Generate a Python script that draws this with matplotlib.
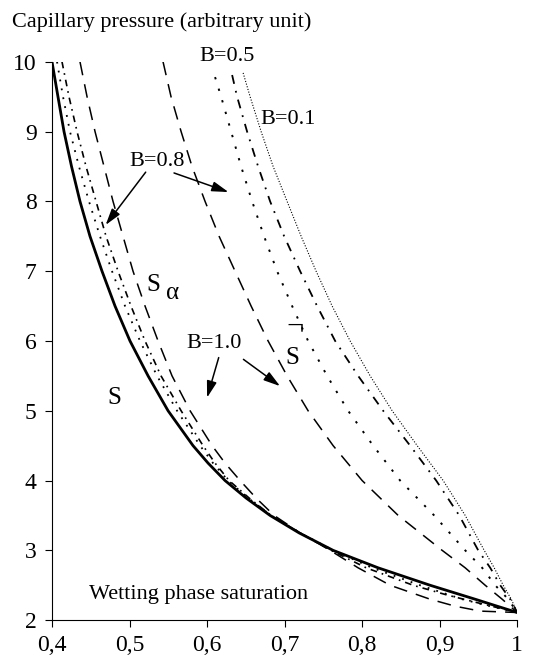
import matplotlib
matplotlib.use("Agg")
import matplotlib.pyplot as plt

plt.rcParams['font.family'] = ['Liberation Serif', 'DejaVu Serif']

# saturation / capillary pressure
# left family: S (thick) and the S_alpha curves
s_x = [0.400, 0.4077, 0.4155, 0.4252, 0.4361, 0.4490, 0.4645, 0.4813, 0.5006, 0.5239,
       0.5497, 0.5819, 0.6013, 0.6232, 0.6503, 0.6813, 0.7187, 0.7626, 0.8206, 0.8877,
       0.9458, 0.9742, 1.000]
s_y = [10.0, 9.5, 9.0, 8.5, 8.0, 7.5, 7.0, 6.5, 6.0, 5.5,
       5.0, 4.5, 4.25, 4.0, 3.75, 3.5, 3.25, 3.0, 2.75, 2.5,
       2.3, 2.2, 2.11]

dot_a_x = [0.4065, 0.4142, 0.4232, 0.4348, 0.4477, 0.4619, 0.4774, 0.4942, 0.5135, 0.5355,
           0.5613, 0.5910, 0.6077, 0.6271, 0.6529, 0.6826, 0.7200, 0.7626, 0.8129, 0.8748,
           0.9290, 0.9652, 1.000]
dot_a_y = [10.0, 9.5, 9.0, 8.5, 8.0, 7.5, 7.0, 6.5, 6.0, 5.5,
           5.0, 4.5, 4.25, 4.0, 3.75, 3.5, 3.25, 3.0, 2.75, 2.5,
           2.3, 2.2, 2.11]

dd_a_x = [0.4129, 0.4219, 0.4323, 0.4439, 0.4568, 0.4697, 0.4852, 0.5019, 0.5200, 0.5406,
          0.5665, 0.5948, 0.6103, 0.6284, 0.6542, 0.6826, 0.7200, 0.7600, 0.8052, 0.8658,
          0.9097, 0.9523, 1.000]
dd_a_y = [10.0, 9.5, 9.0, 8.5, 8.0, 7.5, 7.0, 6.5, 6.0, 5.5,
          5.0, 4.5, 4.25, 4.0, 3.75, 3.5, 3.25, 3.0, 2.75, 2.5,
          2.36, 2.24, 2.11]

salpha_x = [0.4361, 0.4452, 0.4555, 0.4671, 0.4787, 0.4916, 0.5045, 0.5200, 0.5368, 0.5548,
            0.5781, 0.6065, 0.6232, 0.6426, 0.6632, 0.6865, 0.7200, 0.7587, 0.7948, 0.8361,
            0.8877, 0.9200, 0.9523, 1.000]
salpha_y = [10.0, 9.5, 9.0, 8.5, 8.0, 7.5, 7.0, 6.5, 6.0, 5.5,
            5.0, 4.5, 4.25, 4.0, 3.75, 3.5, 3.25, 3.0, 2.75, 2.5,
            2.3, 2.2, 2.13, 2.11]

# right family: S bar and the B curves
sbar_x = [0.5432, 0.5535, 0.5665, 0.5806, 0.5974, 0.6155, 0.6361, 0.6568, 0.6787, 0.7032,
          0.7303, 0.7626, 0.8000, 0.8465, 0.9032, 0.9329, 0.9587, 0.9806, 1.000]
sbar_y = [10.0, 9.5, 9.0, 8.5, 8.0, 7.5, 7.0, 6.5, 6.0, 5.5,
          5.0, 4.5, 4.0, 3.5, 3.0, 2.75, 2.5, 2.3, 2.11]

b05_x = [0.6103, 0.6181, 0.6310, 0.6439, 0.6581, 0.6735, 0.6903, 0.7097, 0.7303, 0.7548,
         0.7819, 0.8142, 0.8490, 0.8929, 0.9329, 0.9548, 0.9716, 0.9884, 1.000]
b05_y = [9.78, 9.5, 9.0, 8.5, 8.0, 7.5, 7.0, 6.5, 6.0, 5.5,
         5.0, 4.5, 4.0, 3.5, 3.0, 2.75, 2.5, 2.3, 2.11]

dd_b_x = [0.6323, 0.6387, 0.6516, 0.6658, 0.6813, 0.6994, 0.7200, 0.7419, 0.7652, 0.7948,
          0.8271, 0.8619, 0.8955, 0.9252, 0.9497, 0.9652, 0.9781, 0.9910, 1.000]
dd_b_y = [9.81, 9.5, 9.0, 8.5, 8.0, 7.5, 7.0, 6.5, 6.0, 5.5,
          5.0, 4.5, 4.0, 3.5, 3.0, 2.75, 2.5, 2.3, 2.11]

b01_x = [0.6465, 0.6555, 0.6697, 0.6852, 0.7032, 0.7213, 0.7406, 0.7613, 0.7845, 0.8103,
         0.8387, 0.8710, 0.9045, 0.9329, 0.9574, 0.9703, 0.9819, 0.9923, 1.000]
b01_y = [9.84, 9.5, 9.0, 8.5, 8.0, 7.5, 7.0, 6.5, 6.0, 5.5,
         5.0, 4.5, 4.0, 3.5, 3.0, 2.75, 2.5, 2.3, 2.11]

x_ticks = [0.4, 0.5, 0.6, 0.7, 0.8, 0.9, 1.0]
x_labels = ['0,4', '0,5', '0,6', '0,7', '0,8', '0,9', '1']
y_ticks = [2, 3, 4, 5, 6, 7, 8, 9, 10]

fig = plt.figure(figsize=(5.36, 6.64), dpi=100)
ax = fig.add_axes([0.097, 0.066, 0.868, 0.841])

ax.plot(s_x, s_y, color='black', lw=2.0)
ax.plot(dot_a_x, dot_a_y, color='black', lw=1.3, ls=(0, (1, 4)))
ax.plot(dd_a_x, dd_a_y, color='black', lw=1.2, ls=(0, (4, 3, 1, 3)))
ax.plot(salpha_x, salpha_y, color='black', lw=1.1, ls=(0, (9, 6)))

ax.plot(sbar_x, sbar_y, color='black', lw=1.1, ls=(0, (9, 6)))
ax.plot(b05_x, b05_y, color='black', lw=1.4, ls=(0, (1.2, 5)))
ax.plot(dd_b_x, dd_b_y, color='black', lw=1.3, ls=(0, (5, 4, 1, 4)))
ax.plot(b01_x, b01_y, color='black', lw=0.8, ls=(0, (1, 1.5)))

ax.set_xlim(0.4, 1.0)
ax.set_ylim(2, 10)
ax.set_xticks(x_ticks)
ax.set_xticklabels(x_labels)
ax.set_yticks(y_ticks)
ax.tick_params(labelsize=17, length=5, width=0.8, pad=6)
ax.spines['top'].set_visible(False)
ax.spines['right'].set_visible(False)

fig.text(0.022, 0.967, 'Capillary pressure (arbitrary unit)', fontsize=16, va='center')
ax.text(0.589, 2.37, 'Wetting phase saturation', fontsize=16, ha='center', va='center')

ax.text(0.626, 10.07, 'B=0.5', fontsize=16, ha='center', va='center', clip_on=False)
ax.text(0.705, 9.17, 'B=0.1', fontsize=16, ha='center', va='center')
ax.text(0.536, 8.57, 'B=0.8', fontsize=16, ha='center', va='center')
ax.text(0.609, 5.96, 'B=1.0', fontsize=16, ha='center', va='center')
ax.text(0.531, 6.8, 'S', fontsize=18, ha='center', va='center')
ax.text(0.556, 6.68, 'α', fontsize=18, ha='center', va='center')
ax.text(0.481, 5.18, 'S', fontsize=18, ha='center', va='center')
ax.text(0.710, 5.76, 'S', fontsize=18, ha='center', va='center')
ax.text(0.713, 6.2, '¬', fontsize=22, ha='center', va='center')

arrow = dict(arrowstyle='-|>,head_length=1.0,head_width=0.3', color='black', lw=1.1)
ax.annotate('', xy=(0.467, 7.63), xytext=(0.523, 8.45), arrowprops=arrow)
ax.annotate('', xy=(0.631, 8.12), xytext=(0.554, 8.42), arrowprops=arrow)
ax.annotate('', xy=(0.599, 5.15), xytext=(0.616, 5.80), arrowprops=arrow)
ax.annotate('', xy=(0.697, 5.33), xytext=(0.644, 5.76), arrowprops=arrow)

fig.savefig('out.png', dpi=100)
